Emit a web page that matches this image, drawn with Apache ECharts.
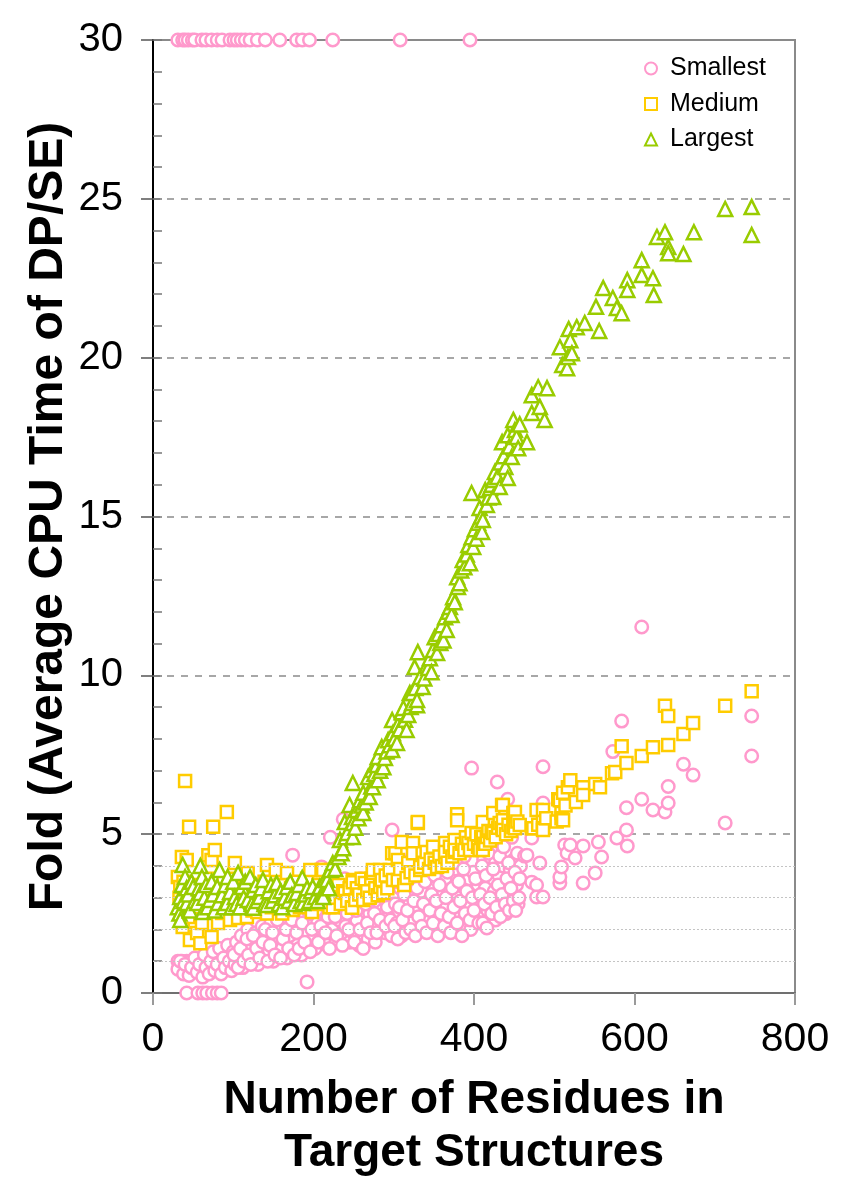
<!DOCTYPE html>
<html><head><meta charset="utf-8">
<script src="https://cdn.jsdelivr.net/npm/echarts@6/dist/echarts.min.js"></script>
<style>html,body{margin:0;padding:0;background:#fff}#c{width:842px;height:1200px}</style>
</head><body><div id="c"></div>
<script>
// ---- data ----
const seriesNames = ['Smallest', 'Medium', 'Largest'];
const xTicks = [0, 200, 400, 600, 800];
const yTicks = [0, 5, 10, 15, 20, 25, 30];
const lightGridLevels = [1, 2, 3, 4];

const smallestTop = [[31,30],[37,30],[40,30],[44,30],[49,30],[52,30],[61,30],[66,30],[73,30],[80,30],[86,30],[96,30],[101,30],[105,30],[110,30],[115,30],[121,30],[130,30],[140,30],[158,30],[179,30],[186,30],[195,30],[224,30],[308,30],[395,30]];
const smallestZero = [[42,0],[56,0],[62,0],[67,0],[74,0],[80,0],[85,0]];
const smallestLow = [[31,1.0],[36,1.0],[42,1.0],[47,1.0],[53,1.0],[60,1.05],[31,0.75],[34,1.0],[38,0.6],[40,0.9],[45,0.55],[48,0.8],[52,1.1],[55,0.65],[58,0.9],[62,0.5],[64,1.2],[66,0.8],[70,0.6],[72,1.0],[75,1.3],[77,0.7],[80,0.9],[83,1.4],[85,0.6],[88,1.1],[90,0.8],[93,1.5],[95,1.0],[98,0.7],[100,1.3]];
const smallestMid = [[102,0.9],[104,1.6],[107,1.1],[110,1.8],[112,0.8],[115,1.3],[118,2.0],[120,1.0],[123,1.5],[126,1.2],[128,1.9],[131,0.9],[134,1.4],[136,2.1],[139,1.1],[142,1.7],[145,1.3],[147,2.2],[150,1.0],[153,1.6],[156,1.2],[158,2.0],[161,1.4],[164,2.4],[167,1.1],[170,1.8],[172,1.3],[174,4.34],[177,2.2],[180,1.5],[183,2.6],[185,1.2],[188,1.9],[190,2.4],[192,0.35],[194,1.5],[197,2.1],[199,1.7],[200,2.8],
[202,1.4],[205,2.2],[207,3.0],[210,3.97],[212,1.7],[214,2.5],[217,1.5],[219,3.3],[221,4.9],[223,2.0],[226,2.8],[228,1.6],[230,3.5],[232,2.3],[234,1.8],[237,5.47],[238,2.9],[240,2.1],[243,3.4],[245,1.6],[247,2.6],[250,1.9],[252,3.1],[254,2.3],[257,1.5],[259,3.6],[261,2.7],[264,2.0],[266,3.2],[268,1.7],[270,2.5],[273,3.7],[275,2.2],[277,1.6],[280,2.9],[282,3.4],[284,2.0],[286,2.6],[289,1.9],[291,3.3],[293,2.4],[295,3.8],[297,1.8],[298,5.13],[299,2.8]];
const smallestFill = [[101,1.2],[106,0.8],[109,1.4],[113,1.0],[117,1.7],[119,1.2],[122,0.9],[125,1.8],[129,1.4],[133,1.1],[137,1.6],[140,2.0],[143,1.0],[146,1.5],[149,1.9],[152,1.2],[155,2.3],[159,1.1],[162,1.7],[166,2.0],[169,1.4],[173,2.3],[176,1.2],[179,1.9],[182,1.4],[186,2.2],[189,1.6],[193,2.6],[196,1.3],[198,2.0],
[203,2.6],[206,1.6],[209,2.1],[211,2.9],[215,1.9],[218,2.4],[220,1.4],[224,3.1],[227,2.4],[229,1.8],[233,2.7],[236,1.5],[239,3.6],[242,2.5],[244,2.0],[248,3.0],[251,1.6],[253,2.6],[256,3.4],[258,2.0],[262,1.4],[265,2.8],[267,2.2],[271,1.9],[274,3.0],[276,2.5],[279,1.9],[281,3.7],[283,2.3],[287,3.0],[290,2.1],[292,2.7],[296,2.3],[299,3.4],
[302,2.8],[304,2.2],[308,3.3],[310,1.8],[314,2.5],[316,3.6],[320,2.9],[322,2.2],[326,3.7],[328,2.6],[332,2.0],[334,3.2],[338,2.4],[340,4.0],[344,2.9],[346,2.0],[350,3.3],[352,2.5],[356,4.1],[358,3.1],[362,2.7],[364,3.6],[368,2.1],[370,3.2],[374,2.5],[376,3.9],[380,3.0],[382,2.1],[386,3.4],[388,4.3],[392,2.7],[394,3.6],[396,2.0],[399,3.8],[403,2.9],[405,3.4],[409,2.6],[412,4.2],[414,3.3],[417,2.6],[419,3.8],[421,4.5],[425,3.2],[427,2.3],[431,3.7],[434,2.9],[436,4.0],[438,3.3],[440,2.5],[445,3.9],[448,3.2],[450,4.2],[453,3.4],[455,2.8],[458,4.0]];
const smallestHigh = [[301,2.1],[303,3.5],[305,1.7],[307,2.7],[309,4.0],[311,2.3],[313,3.1],[315,1.9],[317,2.6],[319,3.7],[321,2.0],[323,4.3],[325,2.9],[327,1.8],[329,3.3],[331,2.4],[333,3.9],[335,2.1],[337,2.8],[339,3.5],[341,1.9],[343,4.2],[345,2.6],[347,3.1],[349,2.2],[351,3.7],[353,2.9],[355,1.8],[357,3.4],[359,2.5],[361,4.4],[363,2.1],[365,3.0],[367,3.8],[369,2.4],[371,1.9],[373,3.3],[375,2.7],[377,4.1],[379,2.2],[381,3.5],[383,2.9],[385,1.8],[387,3.9],[389,2.5],[391,3.2],[393,4.5],[395,2.3],[397,7.08],[398,3.0],
[400,2.6],[402,3.6],[404,4.6],[406,2.2],[408,3.1],[410,4.0],[411,2.2],[413,2.8],[415,3.7],[416,2.05],[418,4.4],[420,3.0],[422,2.5],[424,3.9],[426,4.8],[428,2.7],[429,6.64],[430,3.4],[432,4.3],[433,2.4],[435,3.1],[437,4.6],[439,2.8],[441,3.6],[442,6.1],[443,4.1],[444,2.6],[446,3.3],[447,4.9],[449,2.9],[451,3.8],[452,2.6],[454,4.4],[456,3.0],[457,3.6],[463,4.31],[466,4.34],[472,3.49],[472,4.88],[478,3.4],[478,3.02],[482,4.09],[486,3.02],[486,5.98],[486,7.12],
[507,3.46],[507,3.65],[509,3.97],[513,4.66],[516,4.4],[520,4.66],[526,4.25],[536,3.46],[536,4.63],[551,3.78],[555,4.75],[559,4.28],[573,7.6],[578,4.88],[584,8.56],[590,5.13],[590,5.83],[591,4.63],[609,6.1],[609,11.52],[623,5.76],[638,5.7],[642,5.98],[642,6.5],[661,7.2],[673,6.86],[713,5.35],[746,7.46],[746,8.72]];

const mediumLow = [[31,3.65],[33,3.0],[34,3.34],[36,4.28],[36,2.83],[37,2.08],[38,3.5],[40,6.67],[42,4.19],[42,2.6],[44,2.39],[45,5.23],[46,1.67],[48,3.1],[50,2.9],[52,3.4],[55,1.89],[57,2.7],[59,1.57],[61,2.2],[63,3.2],[65,2.9],[67,3.6],[69,4.34],[71,2.8],[73,4.19],[73,1.76],[75,5.23],[77,4.5],[79,3.3],[81,2.2],[83,3.0],[86,2.52],[88,3.5],[90,2.8],[92,5.7],[94,3.2],[96,2.3],[99,3.6],[102,4.09],[104,2.9],[106,2.36],[109,3.3],[112,2.7],[115,3.5],[117,2.39],[118,3.78],[121,3.0],[124,2.6],[127,3.4],[130,2.55],[133,3.1],[136,2.8],[139,3.5],[142,4.03],[142,2.5],[145,3.0],[148,2.7],[151,3.3],[153,3.87],[156,2.9],[159,3.4],[161,2.5],[164,3.1],[167,3.78],[170,2.8],[172,3.3],[174,2.61],[177,3.0],[180,3.5],[183,2.7],[186,3.2],[189,2.9],[192,3.6],[196,3.87],[198,2.55],[200,3.1],[203,2.8],[206,3.4],[210,3.87],[212,3.87],[214,3.0],[217,3.34],[220,2.7]];
const mediumMid = [[222,3.2],[224,2.7],[224,3.65],[228,3.0],[231,3.4],[234,2.8],[237,3.2],[239,3.15],[242,2.9],[245,3.3],[248,2.7],[248,2.68],[249,3.56],[249,3.49],[252,2.93],[254,3.3],[257,3.1],[260,3.6],[262,2.93],[264,3.46],[267,3.2],[270,3.0],[272,3.6],[274,3.78],[274,3.87],[277,3.3],[280,3.08],[283,3.34],[283,3.87],[285,3.56],[287,3.15],[290,3.7],[292,3.3],[295,3.87],[298,4.4],[299,3.56],[302,4.4],[305,3.56],[305,4.19],[308,3.9],[310,4.75],[313,3.4],[316,3.62],[318,4.09],[321,3.8],[324,4.72],[324,4.4],[327,3.7],[330,5.35],[330,5.38],[333,3.87],[333,3.97],[336,4.4],[338,4.1],[341,4.44],[344,3.9],[346,4.2],[349,4.6],[351,4.1],[354,3.97],[357,4.3],[360,4.0],[364,4.28],[364,4.72],[364,4.44],[367,4.1],[370,4.6],[373,4.3],[376,4.82],[376,4.44],[376,4.5],[379,5.63],[379,5.44],[382,4.4],[385,4.7],[388,4.5],[390,4.9],[393,4.72],[395,4.5],[397,5.04],[400,4.7],[403,5.0],[405,4.6],[407,4.5],[409,4.9],[411,4.5],[411,4.91],[411,5.38],[414,4.7],[416,4.91],[418,5.1],[420,4.8],[422,5.07],[424,5.04],[424,5.67],[427,4.9],[430,5.2],[432,5.35],[435,5.19],[435,5.92],[436,5.92],[436,5.44],[436,5.13],[440,5.0],[443,5.3],[446,5.1],[449,5.22],[449,5.67],[451,5.7],[451,5.19],[454,5.4],[457,5.29]];
const mediumHigh = [[472,5.19],[474,5.19],[478,5.76],[480,5.3],[486,5.76],[486,5.38],[486,5.19],[486,5.13],[490,5.5],[503,5.4],[505,6.1],[507,6.07],[509,5.67],[509,5.5],[511,5.44],[511,6.3],[514,5.9],[517,6.48],[520,6.7],[527,6.01],[536,6.48],[536,6.23],[551,6.58],[557,6.48],[572,6.92],[576,6.96],[584,7.77],[590,7.24],[609,7.46],[623,7.74],[638,9.04],[642,8.72],[642,7.81],[661,8.15],[673,8.5],[713,9.04],[746,9.5]];

const largestFlat = [[31,2.7],[33,2.5],[34,2.3],[34,3.02],[36,3.4],[37,4.03],[38,2.9],[40,3.65],[42,3.3],[42,2.83],[44,3.1],[46,2.6],[48,3.5],[50,3.34],[52,2.9],[55,2.83],[57,3.3],[59,4.0],[59,3.15],[61,3.65],[62,2.55],[64,3.0],[66,3.4],[68,2.7],[71,2.93],[73,3.5],[75,3.1],[77,2.6],[80,3.34],[81,2.83],[83,3.87],[86,3.08],[88,2.7],[90,3.4],[92,2.83],[93,3.65],[96,3.18],[98,2.7],[100,3.5],[102,3.02],[104,2.8],[106,3.78],[108,2.7],[111,3.34],[113,3.0],[115,3.5],[118,2.93],[121,3.65],[123,2.8],[125,3.24],[125,2.68],[128,3.4],[130,2.9],[133,3.02],[135,3.3],[137,3.56],[139,2.8],[142,2.77],[144,3.2],[147,3.4],[149,2.9],[152,3.08],[154,3.46],[157,2.8],[159,3.2],[161,2.7],[164,3.0],[167,3.34],[169,2.9],[171,3.5],[173,3.08],[176,2.8],[179,3.15],[182,3.4],[184,2.9],[186,3.62],[187,2.83],[190,3.1],[192,3.3],[195,2.9],[197,3.2],[199,3.34],[202,3.02],[205,2.9],[207,3.3],[208,3.34],[210,3.1],[212,3.15],[212,3.02],[214,3.56],[217,3.56],[219,3.3],[221,3.87],[224,4.09]];
const largestRise = [[227,3.9],[231,4.28],[233,4.82],[235,4.4],[237,4.56],[239,5.38],[240,4.9],[242,5.04],[245,5.92],[248,5.54],[249,6.61],[249,4.91],[249,5.35],[252,5.2],[254,5.76],[256,5.5],[258,6.07],[260,5.9],[262,6.3],[262,5.67],[265,6.0],[268,6.8],[270,6.17],[272,6.5],[273,7.02],[274,6.48],[276,6.9],[279,7.18],[280,6.7],[280,7.43],[283,7.0],[285,7.74],[287,7.11],[289,7.4],[291,7.6],[293,7.96],[295,7.8],[298,8.59],[298,7.65],[299,8.18],[301,8.0],[304,7.87],[305,8.44],[307,8.3],[310,8.84],[312,8.97],[314,8.6],[316,8.28],[318,8.75],[320,9.44],[321,9.0],[323,9.13],[323,9.44],[326,10.26],[327,9.6],[329,9.06],[329,9.22],[330,10.73],[333,9.95],[336,9.63],[338,9.9],[341,10.3],[343,10.23],[345,10.54],[347,10.1],[349,10.8],[351,11.2],[354,10.7],[356,11.3],[358,11.02],[360,11.58],[362,11.1],[364,11.83],[366,11.43],[368,12.0],[370,12.15],[372,11.9],[374,12.46],[376,12.3],[379,13.09],[380,12.78],[382,12.9],[384,13.3],[386,13.63],[388,13.4],[391,13.8],[393,14.1],[395,13.53],[397,14.35],[397,15.74],[399,14.04],[401,14.6],[403,14.3],[405,14.8],[407,15.27],[409,15.0],[410,14.51],[411,14.89],[414,15.83],[416,15.36],[418,15.6],[420,15.9],[422,16.0],[424,16.15],[424,15.61],[426,16.4],[429,16.24],[432,15.93],[433,16.7],[435,17.34],[437,16.9],[439,16.56],[442,16.21],[442,17.56],[444,17.2],[447,16.87],[449,18.04],[451,17.72],[453,17.5],[455,17.15],[457,17.9]];
const largestTop = [[466,17.34],[472,18.26],[472,18.82],[480,19.07],[482,18.45],[488,18.04],[491,19.04],[507,20.33],[510,19.77],[516,19.67],[517,20.02],[518,20.9],[520,20.55],[522,20.14],[528,20.96],[538,21.09],[552,21.6],[556,20.84],[561,22.19],[573,21.88],[578,21.56],[584,21.4],[591,22.44],[591,22.13],[609,23.07],[609,22.6],[623,22.5],[624,21.97],[628,23.8],[638,23.95],[642,23.48],[642,23.29],[661,23.26],[674,23.95],[713,24.68],[746,24.74],[746,23.86]];

// ---- chart ----
const FONT = "'Liberation Sans', Arial, sans-serif";
const colors = ['#ff99cc', '#ffcc00', '#99cc00'];
const symbols = ['circle', 'rect', 'triangle'];
const sizes = [12.5, 12, 14];
const dataSets = [
  smallestTop.concat(smallestZero, smallestLow, smallestMid, smallestFill, smallestHigh),
  mediumLow.concat(mediumMid, mediumHigh),
  largestFlat.concat(largestRise, largestTop)
];

const chart = echarts.init(document.getElementById('c'), null, {renderer: 'canvas'});
const series = seriesNames.map((name, i) => ({
  name, type: 'scatter', data: dataSets[i], symbol: symbols[i],
  symbolSize: sizes[i], clip: false, z: 3 + i,
  itemStyle: {color: '#fff', borderColor: colors[i], borderWidth: 2.5, opacity: 1},
  emphasis: {disabled: true}
}));
series.unshift({
  name: 'grid-light', type: 'scatter', data: [], z: 1, silent: true,
  markLine: {
    silent: true, symbol: 'none', label: {show: false}, animation: false,
    lineStyle: {color: '#c4c4c4', type: [2, 2], width: 1},
    data: lightGridLevels.map(v => ({yAxis: v}))
  }
});

chart.setOption({
  animation: false,
  backgroundColor: '#fff',
  grid: {left: 153, right: 47, top: 40, bottom: 207, show: true, borderColor: '#8a8a8a', borderWidth: 2},
  legend: {
    data: seriesNames, orient: 'vertical', left: 639, top: 51,
    itemWidth: 12, itemHeight: 12, itemGap: 10.5,
    itemStyle: {borderWidth: 2},
    textStyle: {fontSize: 25, color: '#000', fontFamily: FONT, lineHeight: 25, padding: [0, 0, 0, 8]}
  },
  xAxis: {
    type: 'value', min: xTicks[0], max: xTicks[xTicks.length - 1], interval: xTicks[1] - xTicks[0],
    axisLine: {show: true, lineStyle: {color: '#707070', width: 2}},
    axisTick: {show: true, length: 12, lineStyle: {color: '#9a9a9a', width: 2}},
    axisLabel: {fontSize: 41, color: '#000', fontFamily: FONT, margin: 26},
    splitLine: {show: false},
    name: 'Number of Residues in\nTarget Structures', nameLocation: 'middle', nameGap: 81,
    nameTextStyle: {fontSize: 46, fontWeight: 'bold', color: '#000', fontFamily: FONT, lineHeight: 53}
  },
  yAxis: [{
    type: 'value', min: yTicks[0], max: yTicks[yTicks.length - 1], interval: yTicks[1] - yTicks[0],
    axisLine: {show: true, lineStyle: {color: '#000', width: 2}},
    axisTick: {show: true, length: 12, lineStyle: {color: '#555', width: 1.5}},
    axisLabel: {fontSize: 40, color: '#000', fontFamily: FONT, margin: 30},
    splitLine: {show: true, lineStyle: {color: '#8a8a8a', type: [7, 7], width: 1.5}},
    name: 'Fold (Average CPU Time of DP/SE)', nameLocation: 'middle', nameGap: 80, nameMoveOverlap: false,
    nameTextStyle: {fontSize: 48, fontWeight: 'bold', color: '#000', fontFamily: FONT}
  }, {
    type: 'value', min: yTicks[0], max: yTicks[yTicks.length - 1], interval: 1, position: 'left', offset: 0,
    axisLine: {show: false}, axisLabel: {show: false}, splitLine: {show: false},
    axisTick: {show: true, inside: true, length: 9, lineStyle: {color: '#777', width: 1.5}}
  }],
  series
});
</script></body></html>
